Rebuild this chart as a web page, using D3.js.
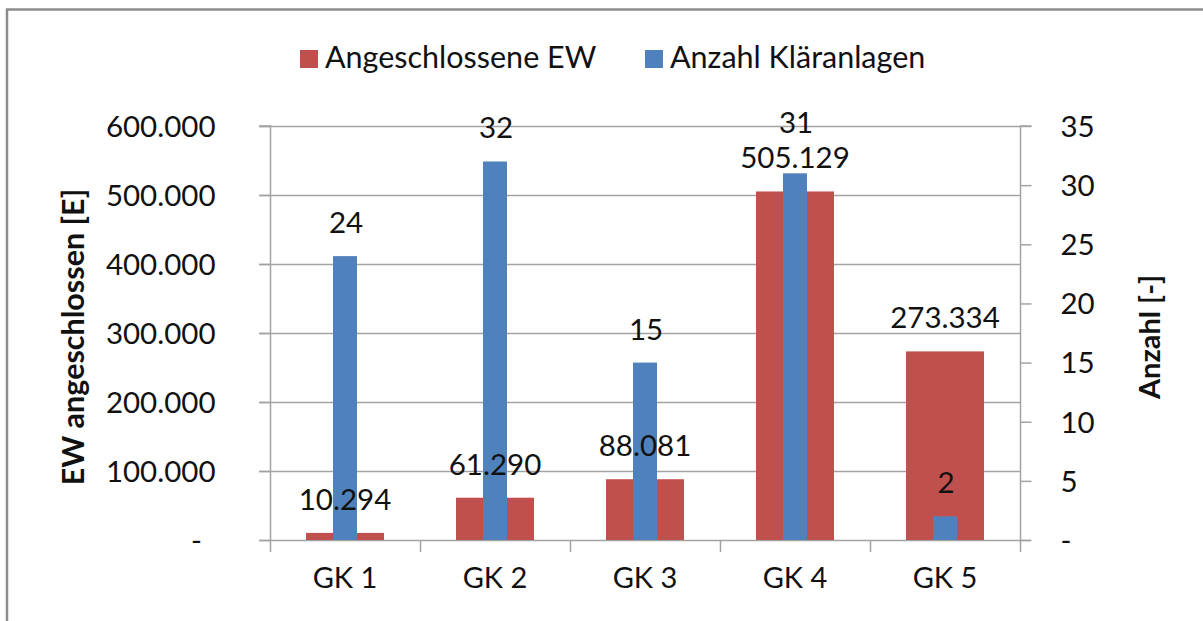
<!DOCTYPE html>
<html>
<head>
<meta charset="utf-8">
<script src="https://cdn.jsdelivr.net/npm/d3@7"></script>
<style>
    body { margin: 0; background: #fff; }
    svg { display: block; font-family: Lato, "Open Sans", sans-serif; }
</style>
</head>
<body>
<div id="chart"></div>
<script>
const categories = ['GK 1', 'GK 2', 'GK 3', 'GK 4', 'GK 5'];
const einwohner = [10294, 61290, 88081, 505129, 273334];
const anzahl = [24, 32, 15, 31, 2];
const leftTicks = [0, 100000, 200000, 300000, 400000, 500000, 600000];
const rightTicks = [0, 5, 10, 15, 20, 25, 30, 35];
const seriesNames = ['Angeschlossene EW', 'Anzahl Kläranlagen'];

const width = 1203;
const height = 621;
const red = '#C0504D';
const blue = '#4F81BD';
const gridColor = '#a3a3a3';

const de = d3.formatLocale({ decimal: ',', thousands: '.', grouping: [3], currency: ['', ' €'] });
const fmt = d => d === 0 ? '-' : de.format(',d')(d);

const svg = d3.select('#chart')
    .append('svg')
    .attr('width', width)
    .attr('height', height);

// chart frame (runs off at right and bottom)
svg.append('rect')
    .attr('x', 7)
    .attr('y', 9.5)
    .attr('width', 1300)
    .attr('height', 700)
    .attr('fill', 'none')
    .attr('stroke', '#8c8c8c')
    .attr('stroke-width', 2.5);

const plotLeft = 270, plotRight = 1020, plotTop = 126, plotBottom = 540;

const yLeft = d3.scaleLinear().domain([0, 600000]).range([plotBottom, plotTop]);
const yRight = d3.scaleLinear().domain([0, 35]).range([plotBottom, plotTop]);

const x = d3.scaleBand().domain(categories).range([plotLeft, plotRight]);
const xRed = d3.scaleBand().domain(categories).range([plotLeft, plotRight])
    .paddingInner(0.48).paddingOuter(0.24);
const xBlue = d3.scaleBand().domain(categories).range([plotLeft, plotRight])
    .paddingInner(0.84).paddingOuter(0.42);

// gridlines
svg.append('g')
    .selectAll('line')
    .data(leftTicks.filter(t => t > 0))
    .enter()
    .append('line')
    .attr('x1', plotLeft - 11)
    .attr('x2', plotRight)
    .attr('y1', d => Math.round(yLeft(d)) + 0.5)
    .attr('y2', d => Math.round(yLeft(d)) + 0.5)
    .attr('stroke', gridColor)
    .attr('stroke-width', 1.5);

// left axis
const leftAxis = svg.append('g')
    .attr('transform', `translate(${plotLeft + 0.5}, 0)`)
    .call(d3.axisLeft(yLeft).tickValues(leftTicks).tickFormat(fmt).tickSize(11).tickPadding(44));
leftAxis.select('.domain').attr('stroke', gridColor).attr('stroke-width', 1.5)
    .attr('d', `M-11,${plotTop}H0V${plotBottom + 12}`);
leftAxis.selectAll('.tick line').attr('stroke', gridColor).attr('stroke-width', 1.5);
leftAxis.selectAll('.tick text')
    .attr('font-family', 'Lato, sans-serif')
    .attr('font-size', 29.5)
    .attr('fill', '#111')
    .attr('dy', '0.35em')
    .filter(d => d === 0)
    .attr('text-anchor', 'middle')
    .attr('x', -74);

// right axis
const rightAxis = svg.append('g')
    .attr('transform', `translate(${plotRight + 0.5}, 0)`)
    .call(d3.axisRight(yRight).tickValues(rightTicks).tickFormat(fmt).tickSize(11).tickPadding(29));
rightAxis.select('.domain').attr('stroke', gridColor).attr('stroke-width', 1.5)
    .attr('d', `M11,${plotTop}H0V${plotBottom + 12}`);
rightAxis.selectAll('.tick line').attr('stroke', gridColor).attr('stroke-width', 1.5);
rightAxis.selectAll('.tick text')
    .attr('font-family', 'Lato, sans-serif')
    .attr('font-size', 29.5)
    .attr('fill', '#111')
    .attr('dy', '0.35em');

// bottom axis
const bottomAxis = svg.append('g')
    .attr('transform', `translate(0, ${plotBottom + 0.5})`)
    .call(d3.axisBottom(x).tickSize(0).tickPadding(45));
bottomAxis.select('.domain').attr('stroke', gridColor).attr('stroke-width', 1.5)
    .attr('d', `M${plotLeft - 11},0H${plotRight + 11}`);
bottomAxis.selectAll('.tick text')
    .attr('font-family', 'Lato, sans-serif')
    .attr('font-size', 29)
    .attr('fill', '#111')
    .attr('dy', '0.1em');

// category separators
svg.append('g')
    .selectAll('line')
    .data(categories.slice(1))
    .enter()
    .append('line')
    .attr('x1', d => Math.round(x(d)) + 0.5)
    .attr('x2', d => Math.round(x(d)) + 0.5)
    .attr('y1', plotBottom)
    .attr('y2', plotBottom + 12)
    .attr('stroke', gridColor)
    .attr('stroke-width', 1.5);

// red bars (left axis)
svg.append('g')
    .selectAll('rect')
    .data(categories)
    .enter()
    .append('rect')
    .attr('x', d => xRed(d))
    .attr('y', (d, i) => yLeft(einwohner[i]))
    .attr('width', xRed.bandwidth())
    .attr('height', (d, i) => plotBottom - yLeft(einwohner[i]))
    .attr('fill', red);

// blue bars (right axis)
svg.append('g')
    .selectAll('rect')
    .data(categories)
    .enter()
    .append('rect')
    .attr('x', d => xBlue(d))
    .attr('y', (d, i) => yRight(anzahl[i]))
    .attr('width', xBlue.bandwidth())
    .attr('height', (d, i) => plotBottom - yRight(anzahl[i]))
    .attr('fill', blue);

// data labels
const labelGap = 23;
const labelSize = 29.5;
const redLabelY = einwohner.map(v => yLeft(v) - labelGap);

svg.append('g')
    .selectAll('text')
    .data(categories)
    .enter()
    .append('text')
    .attr('x', d => x(d) + x.bandwidth() / 2)
    .attr('y', (d, i) => redLabelY[i])
    .attr('text-anchor', 'middle')
    .attr('font-size', labelSize)
    .attr('fill', '#111')
    .text((d, i) => fmt(einwohner[i]));

// blue labels: pushed up above the red label when they would collide
svg.append('g')
    .selectAll('text')
    .data(categories)
    .enter()
    .append('text')
    .attr('x', d => x(d) + x.bandwidth() / 2 + 1)
    .attr('y', (d, i) => {
        const y = yRight(anzahl[i]) - labelGap;
        const ry = redLabelY[i];
        if (y > ry - 24 && y < ry + 24) return ry - 35;
        return y;
    })
    .attr('text-anchor', 'middle')
    .attr('font-size', labelSize)
    .attr('fill', '#111')
    .text((d, i) => fmt(anzahl[i]));

// axis titles
svg.append('text')
    .attr('transform', `translate(72, 337) rotate(-90)`)
    .attr('text-anchor', 'middle')
    .attr('dominant-baseline', 'central')
    .attr('font-size', 30.5)
    .attr('font-weight', 'bold')
    .attr('fill', '#111')
    .text('EW angeschlossen [E]');

svg.append('text')
    .attr('transform', `translate(1148, 337) rotate(-90)`)
    .attr('text-anchor', 'middle')
    .attr('dominant-baseline', 'central')
    .attr('font-size', 29)
    .attr('font-weight', 'bold')
    .attr('fill', '#111')
    .text('Anzahl [-]');

// legend
const legendX = [300, 645];
const legend = svg.append('g')
    .selectAll('g')
    .data(seriesNames)
    .enter()
    .append('g')
    .attr('transform', (d, i) => `translate(${legendX[i]}, 50)`);

legend.append('rect')
    .attr('width', 18)
    .attr('height', 18)
    .attr('fill', (d, i) => i === 0 ? red : blue);

legend.append('text')
    .attr('x', 25)
    .attr('y', 18)
    .attr('font-size', 30.5)
    .attr('fill', '#111')
    .text(d => d);
</script>
</body>
</html>
